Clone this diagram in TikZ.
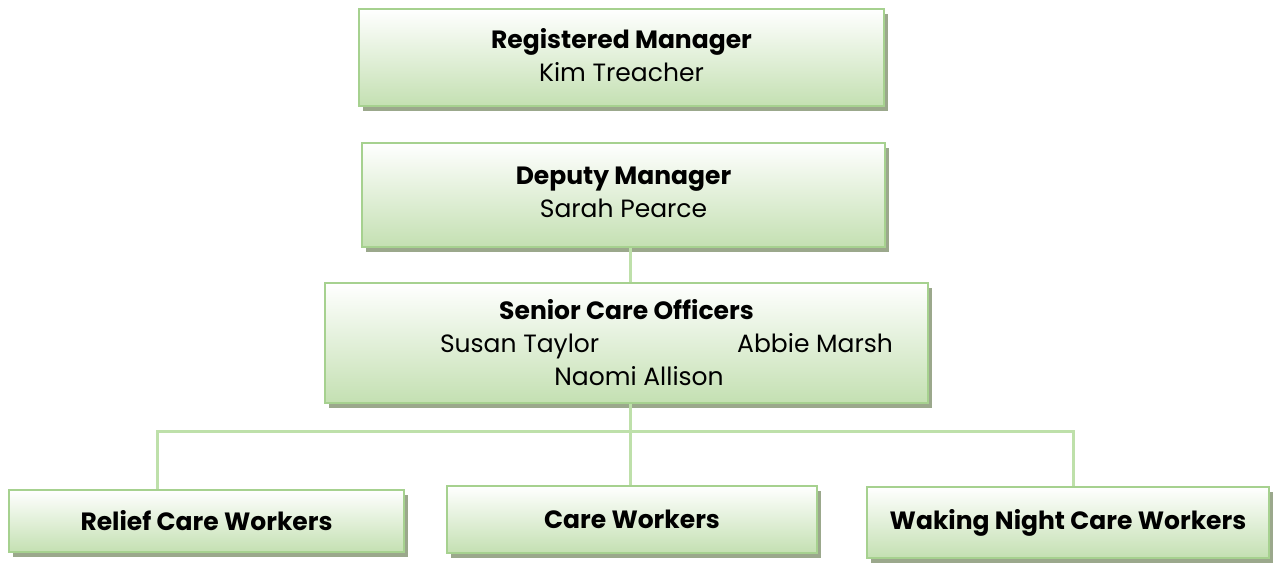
\documentclass[tikz,border=0pt]{standalone}
\usepackage{fontspec}
\setmainfont{Poppins}
\usetikzlibrary{shadows}
\definecolor{boxborder}{RGB}{166,209,143}
\definecolor{boxfill}{RGB}{196,224,178}
\definecolor{shadowgray}{RGB}{155,168,140}
\definecolor{connline}{RGB}{190,224,170}
\tikzset{
  orgbox/.style={draw=boxborder, line width=2.6pt, rectangle, inner sep=0pt,
    top color=white, bottom color=boxfill, align=center, text=black,
    font=\fontsize{25}{33}\selectfont,
    general shadow={fill=shadowgray, shadow xshift=4pt, shadow yshift=-5pt}},
  conn/.style={draw=connline, line width=3pt}
}
\begin{document}
\begin{tikzpicture}[x=1pt,y=-1pt]
\useasboundingbox (0,0) rectangle (1275,565);
% connector junctions
\coordinate (jx) at (630,431);
\coordinate (lt) at (157,431);
\coordinate (rt) at (1073,431);
% boxes
\node[orgbox, minimum width=525pt, minimum height=97pt] (rm) at (621.5,57.5)
  {\textbf{Registered Manager}\\Kim Treacher\rule[-6pt]{0pt}{6pt}};
\node[orgbox, minimum width=523pt, minimum height=104pt] (dm) at (623.5,195)
  {\textbf{Deputy Manager}\\Sarah Pearce\rule[-6pt]{0pt}{6pt}};
\node[orgbox, minimum width=603pt, minimum height=120pt] (sco) at (626.5,343)
  {\textbf{Senior Care Officers}\\\hspace*{80pt}\hbox to 453pt{Susan Taylor\hfill Abbie Marsh}\\\hspace*{25pt}Naomi Allison};
\node[orgbox, minimum width=395pt, minimum height=62pt] (rcw) at (206.5,521)
  {\textbf{Relief Care Workers}};
\node[orgbox, minimum width=370pt, minimum height=67pt] (cw) at (632,519.5)
  {\textbf{Care Workers}};
\node[orgbox, minimum width=402pt, minimum height=71pt] (wn) at (1068,522.5)
  {\textbf{Waking Night Care Workers}};
% connectors
\draw[conn] (dm.south -| jx) -- (sco.north -| jx);
\draw[conn] (sco.south -| jx) -- (cw.north -| jx);
\draw[conn] (rcw.north -| lt) -- (lt) -- (rt) -- (wn.north -| rt);
\end{tikzpicture}
\end{document}
